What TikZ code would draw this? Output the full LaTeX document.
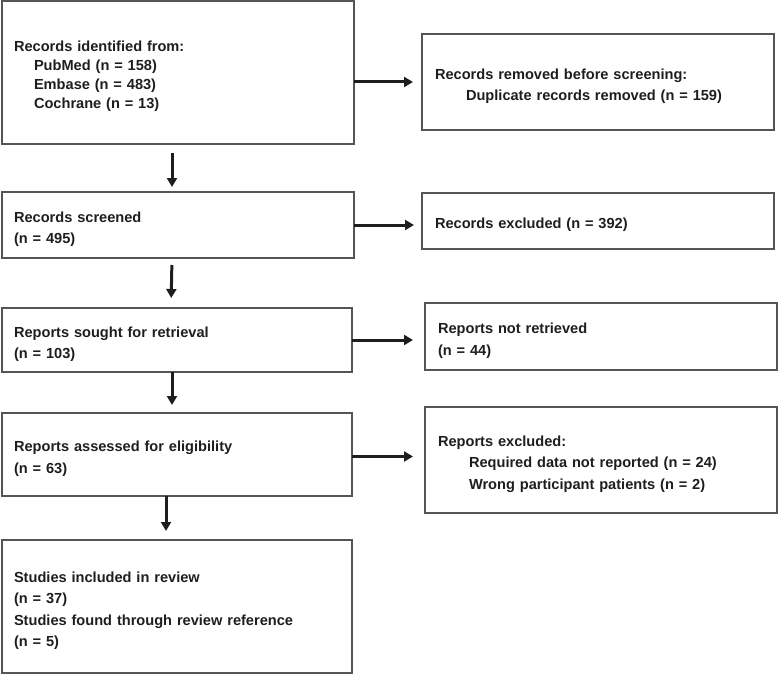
\documentclass[tikz,border=0pt]{standalone}
\usepackage{fontspec}
\setmainfont{Liberation Sans}
\usetikzlibrary{arrows.meta, positioning}
\usepackage{xcolor}
\definecolor{boxgray}{HTML}{555555}
\definecolor{inkdark}{HTML}{1E1E1E}

\begin{document}
\begin{tikzpicture}[x=1pt, y=-1pt,
    box/.style={rectangle, draw=boxgray, line width=1.5pt, anchor=north west,
        align=left, inner xsep=12pt, inner ysep=0pt, outer sep=0pt,
        text=inkdark, font=\bfseries\fontsize{14.6}{21.5}\selectfont,
        execute at begin node={\rule{0pt}{19pt}}},
    sidebox/.style={box, inner xsep=13pt},
    flow/.style={->, >={Triangle[length=9pt, width=10pt]}, line width=3pt, draw=inkdark}]
    \useasboundingbox (0,0) rectangle (778,674);

    % left column
    \node (ident) [box, text width=328pt, minimum height=143pt,
        font=\bfseries\fontsize{14.6}{19}\selectfont] at (2,1)
        {Records identified from:\\
         \hspace*{20pt}PubMed (n = 158)\\
         \hspace*{20pt}Embase (n = 483)\\
         \hspace*{20pt}Cochrane (n = 13)};
    \node (screen) [box, text width=328pt, minimum height=66pt] at (2,192)
        {Records screened\\(n = 495)};
    \node (sought) [box, text width=326pt, minimum height=64pt] at (2,308)
        {Reports sought for retrieval\\(n = 103)};
    \node (assess) [box, text width=326pt, minimum height=83pt] at (2,413)
        {Reports assessed for eligibility\\(n = 63)};
    \node (incl) [box, text width=326pt, minimum height=133pt] at (2,540)
        {Studies included in review\\(n = 37)\\Studies found through review reference\\(n = 5)};

    % right column
    \node (dup) [sidebox, text width=326pt, minimum height=96pt] at (422,34)
        {Records removed before screening:\\
         \hspace*{31pt}Duplicate records removed (n = 159)};
    \node (excl) [sidebox, text width=326pt, minimum height=56pt] at (422,193)
        {Records excluded (n = 392)};
    \node (notret) [sidebox, text width=326pt, minimum height=67pt] at (425,303)
        {Reports not retrieved\\(n = 44)};
    \node (rexcl) [sidebox, text width=326pt, minimum height=106pt] at (425,407)
        {Reports excluded:\\
         \hspace*{31pt}Required data not reported (n = 24)\\
         \hspace*{31pt}Wrong participant patients (n = 2)};

    % arrows down
    \draw [flow, shorten <=9pt, shorten >=5pt] ([xshift=-6pt]ident.south) -- ([xshift=-6pt]screen.north);
    \draw [flow, shorten <=7pt, shorten >=10pt] ([xshift=-6pt]screen.south) -- ([xshift=-6pt]sought.north);
    \draw [flow, shorten >=8pt] ([xshift=-5pt]sought.south) -- ([xshift=-5pt]assess.north);
    \draw [flow, shorten >=9pt] ([xshift=-11pt]assess.south) -- ([xshift=-11pt]incl.north);

    % arrows across
    \draw [flow, shorten >=9pt] (ident.east |- dup.west) -- (dup.west);
    \draw [flow, shorten >=8pt] (screen.east) -- (screen.east -| excl.west);
    \draw [flow, shorten >=12pt] (sought.east) -- (sought.east -| notret.west);
    \draw [flow, shorten >=12pt] ([yshift=-2pt]assess.east) -- ([yshift=-2pt]assess.east -| rexcl.west);
\end{tikzpicture}
\end{document}
